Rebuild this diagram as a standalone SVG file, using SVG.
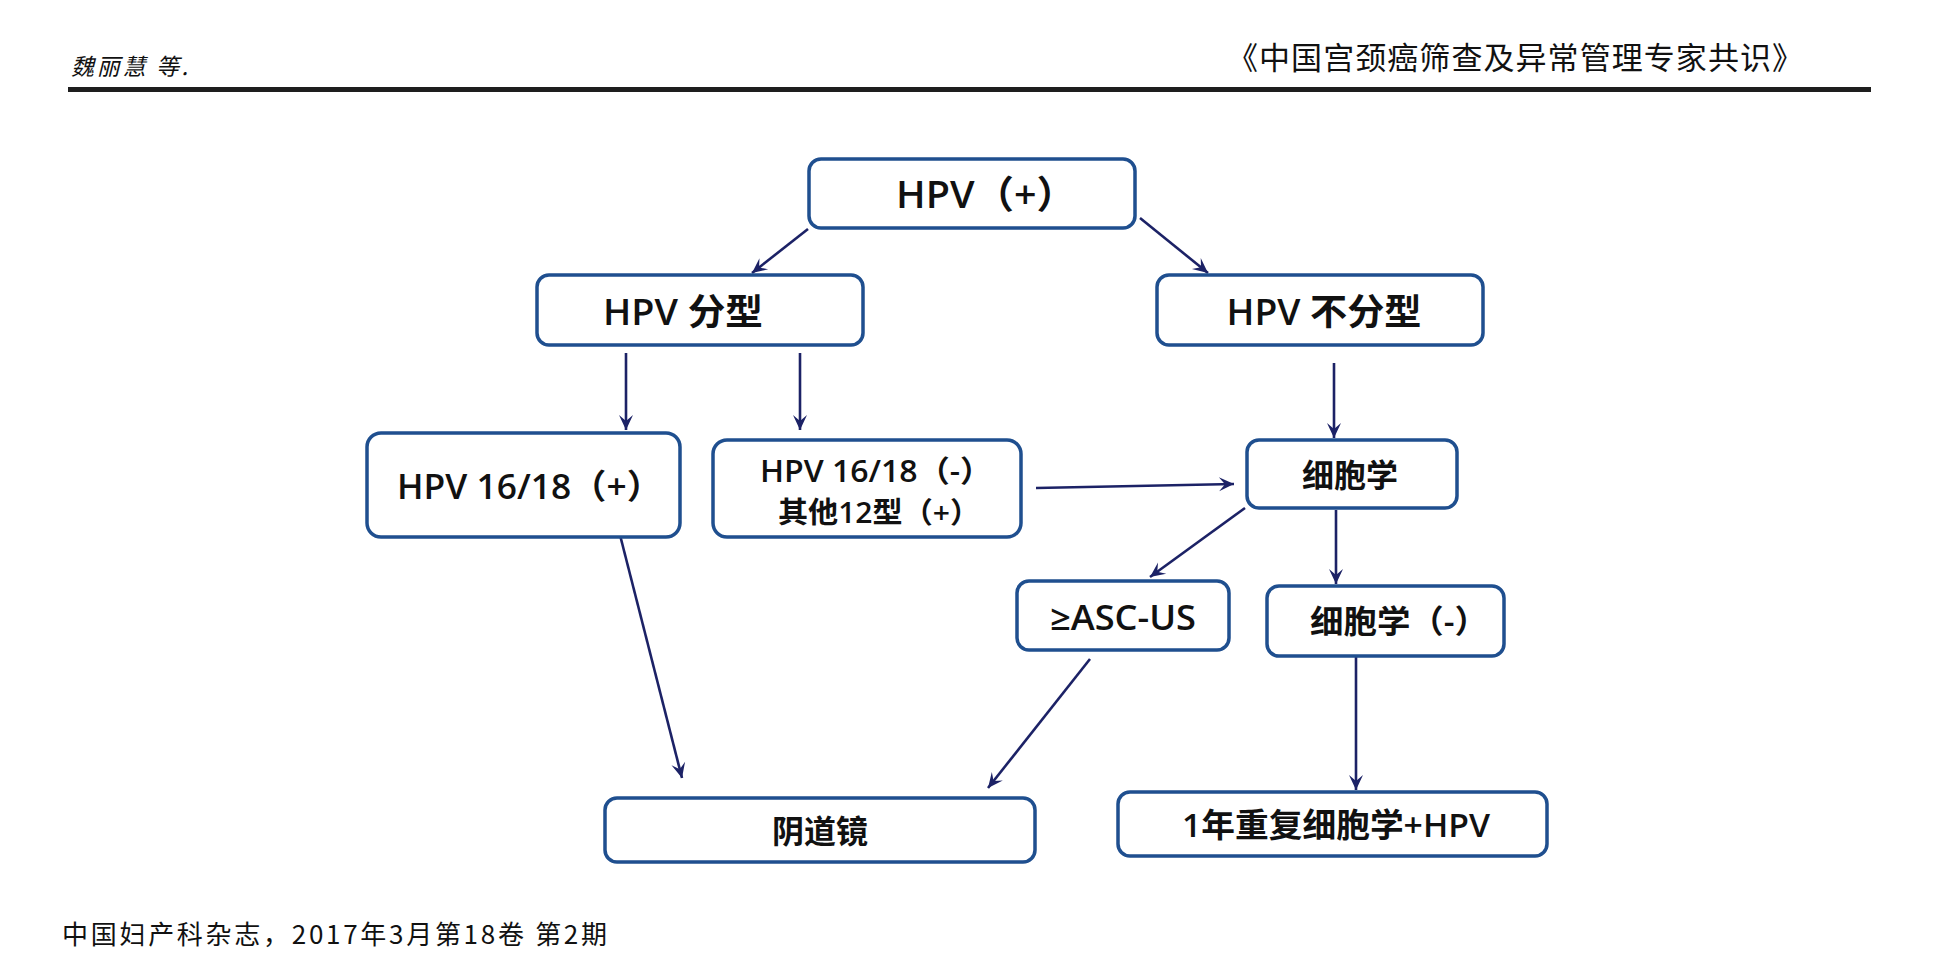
<svg xmlns="http://www.w3.org/2000/svg" width="1943" height="978" viewBox="0 0 1943 978">
<style>
.box{fill:#fff;stroke:#1f4f8f;stroke-width:3.5}
.t{font-family:"Open Sans","Noto Sans CJK SC",sans-serif;font-weight:600;fill:#111;text-anchor:middle}
.s{text-anchor:start}
.c{stroke:#1c2266;stroke-width:2.6;fill:none;marker-end:url(#ah)}
.hd{font-family:"Noto Sans CJK SC","Liberation Sans",sans-serif;fill:#111}
</style>
<defs>
<marker id="ah" viewBox="-16 -8 17 16" refX="0" refY="0" markerWidth="17" markerHeight="16" orient="auto" markerUnits="userSpaceOnUse" overflow="visible">
<path d="M0,0 L-15,-7 L-9,0 L-15,7 Z" fill="#1c2266"/>
</marker>
</defs>
<rect width="1943" height="978" fill="#fff"/>
<g id="header">
<text class="hd" x="71" y="75" font-size="23" font-style="italic" textLength="117">魏丽慧 等.</text>
<text class="hd" x="1227" y="69" font-size="31" textLength="576">《中国宫颈癌筛查及异常管理专家共识》</text>
<rect x="68" y="87" width="1803" height="5" fill="#1e1e1e"/>
</g>
<g id="connectors">
<line class="c" x1="808" y1="229" x2="752" y2="273"/>
<line class="c" x1="1140" y1="218" x2="1208" y2="273"/>
<line class="c" x1="626" y1="353" x2="626" y2="430"/>
<line class="c" x1="800" y1="353" x2="800" y2="430"/>
<line class="c" x1="1334" y1="363" x2="1334" y2="438"/>
<line class="c" x1="1036" y1="488" x2="1234" y2="484"/>
<line class="c" x1="1245" y1="508" x2="1150" y2="577"/>
<line class="c" x1="1336" y1="510" x2="1336" y2="584"/>
<line class="c" x1="620" y1="535" x2="682" y2="778"/>
<line class="c" x1="1090" y1="659" x2="988" y2="788"/>
<line class="c" x1="1356" y1="657" x2="1356" y2="790"/>
</g>
<g id="n1"><rect class="box" x="809" y="159" width="326" height="69" rx="12"/><text class="t s" x="896" y="208" font-size="38" textLength="180" lengthAdjust="spacingAndGlyphs">HPV（+）</text></g>
<g id="n2"><rect class="box" x="537" y="275" width="326" height="70" rx="12"/><text class="t" x="683" y="325" font-size="36" textLength="160" lengthAdjust="spacingAndGlyphs">HPV 分型</text></g>
<g id="n3"><rect class="box" x="1157" y="275" width="326" height="70" rx="12"/><text class="t" x="1324" y="325" font-size="36" textLength="195" lengthAdjust="spacingAndGlyphs">HPV 不分型</text></g>
<g id="n4"><rect class="box" x="367" y="433" width="313" height="104" rx="14"/><text class="t s" x="397" y="499" font-size="34" textLength="265" lengthAdjust="spacingAndGlyphs">HPV 16/18（+）</text></g>
<g id="n5"><rect class="box" x="713" y="440" width="308" height="97" rx="14"/><text class="t s" x="760" y="482" font-size="30" textLength="232" lengthAdjust="spacingAndGlyphs">HPV 16/18（-）</text><text class="t s" x="778" y="523" font-size="29" textLength="202" lengthAdjust="spacingAndGlyphs">其他12型（+）</text></g>
<g id="n6"><rect class="box" x="1247" y="440" width="210" height="68" rx="12"/><text class="t" x="1350" y="487" font-size="32" textLength="96" lengthAdjust="spacingAndGlyphs">细胞学</text></g>
<g id="n7"><rect class="box" x="1017" y="581" width="212" height="69" rx="12"/><text class="t" x="1123" y="630" font-size="34" textLength="146" lengthAdjust="spacingAndGlyphs">≥ASC-US</text></g>
<g id="n8"><rect class="box" x="1267" y="586" width="237" height="70" rx="12"/><text class="t s" x="1310" y="633" font-size="32" textLength="178" lengthAdjust="spacingAndGlyphs">细胞学（-）</text></g>
<g id="n9"><rect class="box" x="1118" y="792" width="429" height="64" rx="12"/><text class="t" x="1336" y="837" font-size="33" textLength="308" lengthAdjust="spacingAndGlyphs">1年重复细胞学+HPV</text></g>
<g id="n10"><rect class="box" x="605" y="798" width="430" height="64" rx="12"/><text class="t" x="820" y="843" font-size="32" textLength="96" lengthAdjust="spacingAndGlyphs">阴道镜</text></g>
<g id="footer">
<text class="hd" x="62" y="944" font-size="26" textLength="545">中国妇产科杂志，2017年3月第18卷 第2期</text>
</g>
</svg>
